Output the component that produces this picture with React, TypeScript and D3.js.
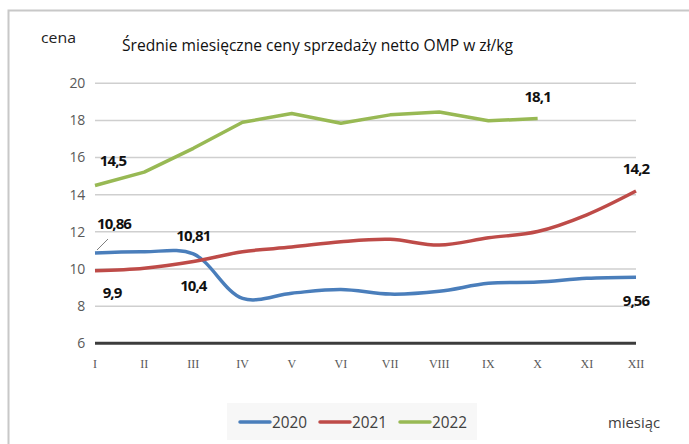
import React from "react";
import * as d3 from "d3";

const months = ["I", "II", "III", "IV", "V", "VI", "VII", "VIII", "IX", "X", "XI", "XII"];
const yTicks = [6, 8, 10, 12, 14, 16, 18, 20];
const v2020 = [10.86, 10.93, 10.81, 8.42, 8.7, 8.9, 8.65, 8.8, 9.23, 9.3, 9.5, 9.56];
const v2021 = [9.9, 10.04, 10.4, 10.93, 11.18, 11.47, 11.6, 11.29, 11.68, 12.02, 12.92, 14.2];
const v2022 = [14.5, 15.22, 16.5, 17.9, 18.37, 17.85, 18.3, 18.45, 17.98, 18.1];
const seriesNames = ["2020", "2021", "2022"];
const colors = ["#4A7EBB", "#BE4B48", "#98B954"];

const labels = [
  { text: "14,5", month: 0, value: 14.5, dx: 18, dy: -25 },
  { text: "10,86", month: 0, value: 10.86, dx: 19, dy: -29 },
  { text: "10,81", month: 2, value: 10.81, dx: 0, dy: -18 },
  { text: "9,9", month: 0, value: 9.9, dx: 17, dy: 22 },
  { text: "10,4", month: 2, value: 10.4, dx: 0, dy: 24 },
  { text: "18,1", month: 9, value: 18.1, dx: 0, dy: -22 },
  { text: "14,2", month: 11, value: 14.2, dx: 0, dy: -22 },
  { text: "9,56", month: 11, value: 9.56, dx: 0, dy: 24 },
];

export default function App() {
  const W = 689, H = 444;
  const x = d3.scalePoint<string>().domain(months).range([95, 636]);
  const y = d3.scaleLinear().domain([6, 20]).range([343.3, 83.3]);
  const smooth = d3.line<number>().x((_, i) => x(months[i])!).y((d) => y(d)).curve(d3.curveCatmullRom.alpha(0.5));
  const straight = d3.line<number>().x((_, i) => x(months[i])!).y((d) => y(d));
  const paths = [smooth(v2020), smooth(v2021), straight(v2022)];
  const font = "'Open Sans', 'Liberation Sans', sans-serif";
  const legendX = [240, 320, 400];
  return (
    <svg width={W} height={H} style={{ position: "absolute", left: 0, top: 0, background: "#fff" }}>
      <rect x={8.5} y={10.5} width={700} height={460} fill="#fff" stroke="#c8c8c8" strokeWidth={2} />
      <text x={41} y={43} fontFamily={font} fontSize={15} fill="#222" textLength={35} lengthAdjust="spacingAndGlyphs">cena</text>
      <text x={122} y={51} fontFamily={font} fontSize={17} fill="#111" textLength={391} lengthAdjust="spacingAndGlyphs">
        Średnie miesięczne ceny sprzedaży netto OMP w zł/kg
      </text>
      {yTicks.filter((t) => t !== 6).map((t) => (
        <line key={t} x1={95} x2={636} y1={y(t)} y2={y(t)} stroke="#cfcfcf" strokeWidth={1.5} />
      ))}
      <line x1={95} x2={636} y1={y(6)} y2={y(6)} stroke="#3c3c3c" strokeWidth={3} />
      {yTicks.map((t) => (
        <text key={t} x={85} y={y(t)} dy="0.35em" textAnchor="end" fontFamily={font} fontSize={14} fill="#595959" letterSpacing={-0.3}>{t}</text>
      ))}
      {months.map((m) => (
        <text key={m} x={x(m)} y={368} textAnchor="middle" fontFamily="'Liberation Serif', serif" fontSize={12} fill="#595959">{m}</text>
      ))}
      {paths.map((p, i) => (
        <path key={i} d={p ?? ""} fill="none" stroke={colors[i]} strokeWidth={3.5} strokeLinejoin="round" />
      ))}
      <line x1={108} x2={97} y1={239} y2={250} stroke="#7f7f7f" strokeWidth={1} />
      {labels.map((l, i) => (
        <text key={i} x={x(months[l.month])! + l.dx} y={y(l.value) + l.dy} dy="0.35em" textAnchor="middle" fontFamily={font} fontWeight="bold" fontSize={15} fill="#111" letterSpacing={-0.9}>{l.text}</text>
      ))}
      <rect x={227} y={403} width={250} height={37} fill="#f7f7f7" />
      {seriesNames.map((n, i) => (
        <g key={n}>
          <line x1={legendX[i]} x2={legendX[i] + 30} y1={422} y2={422} stroke={colors[i]} strokeWidth={3.5} strokeLinecap="round" />
          <text x={legendX[i] + 32} y={422} dy="0.35em" fontFamily={font} fontSize={16} fill="#404040" textLength={35} lengthAdjust="spacingAndGlyphs">{n}</text>
        </g>
      ))}
      <text x={608} y={423} dy="0.35em" fontFamily={font} fontSize={15} fill="#404040" textLength={52} lengthAdjust="spacingAndGlyphs">miesiąc</text>
    </svg>
  );
}
